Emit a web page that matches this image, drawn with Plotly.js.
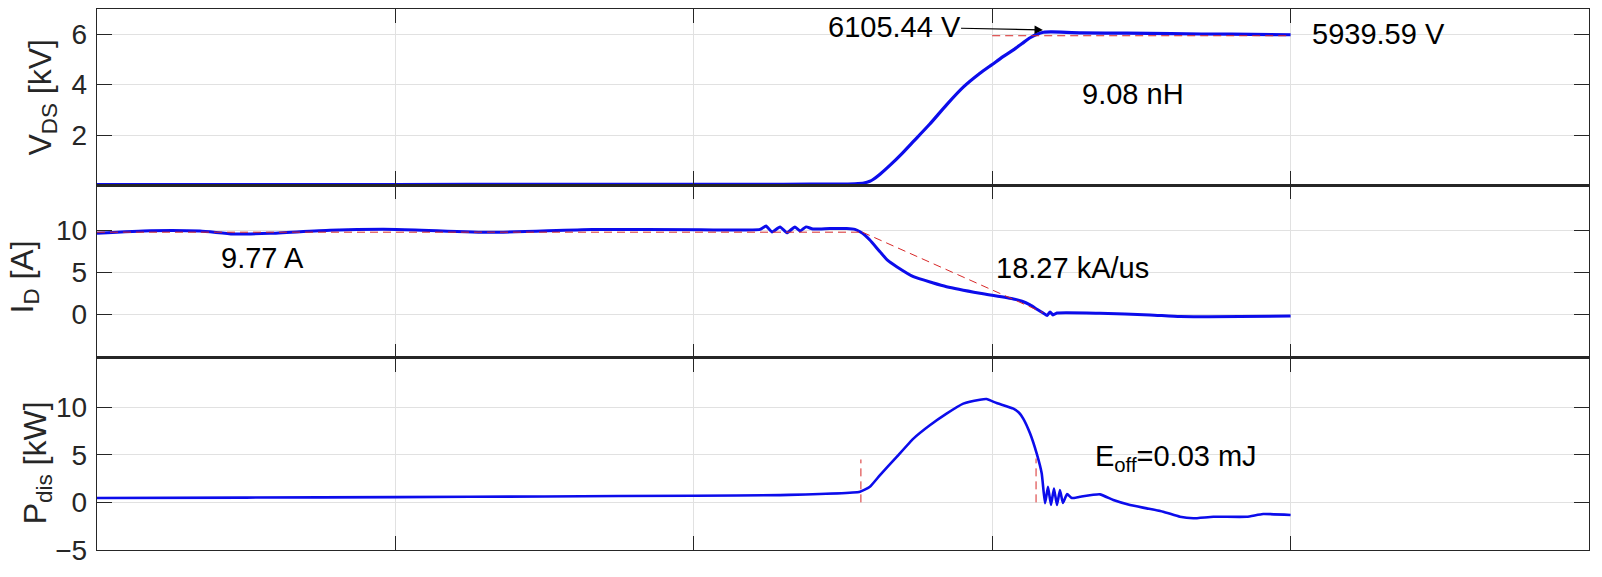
<!DOCTYPE html>
<html>
<head>
<meta charset="utf-8">
<script src="https://cdn.plot.ly/plotly-3.0.1.min.js"></script>
<style>html,body{margin:0;padding:0;background:#fff;}#chart{width:1602px;height:577px;}</style>
</head>
<body>
<div id="chart"></div>
<script>
// ---- data (time axis in divisions, no labels shown) ----
const vdsTime = [0, 0.5, 1, 1.5, 2, 2.3, 2.5, 2.54, 2.57, 2.59, 2.602, 2.624, 2.657, 2.70, 2.736, 2.791, 2.847, 2.903, 2.959, 3.0, 3.035, 3.071, 3.10, 3.127, 3.15, 3.172, 3.20, 3.30, 3.45, 3.60, 3.80, 4.0];
const vdsKV   = [0.04, 0.04, 0.04, 0.05, 0.05, 0.05, 0.06, 0.07, 0.10, 0.17, 0.25, 0.45, 0.80, 1.30, 1.75, 2.44, 3.20, 3.90, 4.45, 4.80, 5.10, 5.38, 5.63, 5.86, 6.00, 6.08, 6.09, 6.05, 6.04, 6.02, 6.00, 5.98];

const idTime = [0, 0.178, 0.345, 0.456, 0.58, 0.781, 1.002, 1.317, 1.659, 2.021, 2.222, 2.242, 2.262, 2.289, 2.312, 2.339, 2.356, 2.376, 2.399, 2.456, 2.512, 2.540, 2.557, 2.574, 2.590, 2.624, 2.650, 2.680, 2.736, 2.80, 2.847, 2.959, 3.071, 3.10, 3.127, 3.150, 3.172, 3.184, 3.194, 3.204, 3.217, 3.361, 3.529, 3.63, 3.83, 4.0];
const idAmp  = [9.63, 9.94, 9.90, 9.55, 9.63, 10.0, 10.1, 9.75, 10.1, 10.05, 10.1, 10.5, 9.8, 10.4, 9.7, 10.4, 9.9, 10.4, 10.15, 10.2, 10.2, 10.1, 9.82, 9.4, 8.83, 7.44, 6.4, 5.66, 4.47, 3.75, 3.28, 2.50, 1.82, 1.55, 1.11, 0.6, 0.12, -0.14, 0.27, -0.08, 0.15, 0.12, -0.08, -0.28, -0.28, -0.20];

const pTime = [0, 0.5, 1.0, 1.5, 2.0, 2.289, 2.557, 2.590, 2.624, 2.680, 2.736, 2.791, 2.847, 2.903, 2.959, 2.981, 3.015, 3.071, 3.090, 3.104, 3.127, 3.149, 3.166, 3.177, 3.187, 3.197, 3.207, 3.217, 3.227, 3.237, 3.251, 3.267, 3.294, 3.361, 3.406, 3.462, 3.518, 3.573, 3.629, 3.674, 3.741, 3.853, 3.908, 4.0];
const pKW   = [0.45, 0.5, 0.55, 0.62, 0.7, 0.76, 1.11, 1.63, 2.86, 4.77, 6.69, 8.09, 9.31, 10.36, 10.77, 10.84, 10.42, 9.83, 9.4, 8.79, 7.22, 5.13, 3.03, -0.10, 1.63, -0.28, 1.46, -0.28, 1.29, -0.07, 0.87, 0.45, 0.59, 0.84, 0.24, -0.28, -0.63, -0.98, -1.51, -1.67, -1.51, -1.51, -1.22, -1.33];

// red dashed guide lines
const vRefX = [3.0, 4.0];      const vRefY = [5.94, 5.94];
const iRefX = [0, 2.565];      const iRefY = [9.77, 9.77];
const slopeX = [2.565, 3.17];  const slopeY = [9.77, 0.2];
const pMark1X = [2.56, 2.56];  const pMark1Y = [0, 4.5];
const pMark2X = [3.147, 3.147];const pMark2Y = [0, 4.6];

// annotation texts
const labelTexts = ['6105.44 V', '5939.59 V', '9.08 nH', '9.77 A', '18.27 kA/us', 'E<sub>off</sub>=0.03 mJ'];
const yTitles = ['V<sub>DS</sub> [kV]', 'I<sub>D</sub> [A]', 'P<sub>dis</sub> [kW]'];
const gridX = [1, 2, 3, 4];

const FONT = 'Liberation Sans, Arial, Helvetica, sans-serif';
const BLUE = 'rgb(12,12,235)';
const RED = 'rgb(215,40,40)';
const AX = '#262626';

const traces = [
  {x: vdsTime, y: vdsKV, xaxis: 'x', yaxis: 'y', mode: 'lines', line: {color: BLUE, width: 3.2, shape: 'spline', smoothing: 0.7}},
  {x: idTime, y: idAmp, xaxis: 'x2', yaxis: 'y2', mode: 'lines', line: {color: BLUE, width: 3, shape: 'spline', smoothing: 0.5}},
  {x: pTime, y: pKW, xaxis: 'x3', yaxis: 'y3', mode: 'lines', line: {color: BLUE, width: 2.6, shape: 'spline', smoothing: 0.4}},
  {x: vRefX, y: vRefY, xaxis: 'x', yaxis: 'y', mode: 'lines', line: {color: RED, width: 1, dash: '8px,5px'}},
  {x: iRefX, y: iRefY, xaxis: 'x2', yaxis: 'y2', mode: 'lines', line: {color: RED, width: 1, dash: '8px,5px'}},
  {x: slopeX, y: slopeY, xaxis: 'x2', yaxis: 'y2', mode: 'lines', line: {color: RED, width: 1, dash: '8px,5px'}},
  {x: pMark1X, y: pMark1Y, xaxis: 'x3', yaxis: 'y3', mode: 'lines', line: {color: RED, width: 1, dash: '8px,5px'}},
  {x: pMark2X, y: pMark2Y, xaxis: 'x3', yaxis: 'y3', mode: 'lines', line: {color: RED, width: 1, dash: '8px,5px'}}
];

function xax(anchor) {
  return {
    anchor: anchor, range: [0, 5], tickvals: gridX, showticklabels: false,
    ticks: 'inside', ticklen: 14, tickcolor: AX, tickwidth: 1,
    showline: true, linecolor: AX, linewidth: 1.2, mirror: 'ticks',
    showgrid: true, gridcolor: '#e1e1e1', gridwidth: 1, zeroline: false
  };
}
function yax(anchor, domain, range, tickvals) {
  return {
    anchor: anchor, domain: domain, range: range, tickvals: tickvals,
    ticks: 'inside', ticklen: 15, tickcolor: AX, tickwidth: 1,
    showline: true, linecolor: AX, linewidth: 1.2, mirror: 'ticks',
    showgrid: true, gridcolor: '#e1e1e1', gridwidth: 1, zeroline: false,
    tickfont: {family: FONT, size: 28, color: AX}, ticklabelstandoff: 3
  };
}

const TOPD = [0.6741, 1], MIDD = [0.3558, 0.6741], BOTD = [0, 0.3558];
const annFont = {family: FONT, size: 29, color: '#000'};
const titleFont = {family: FONT, size: 32, color: AX};

const layout = {
  width: 1602, height: 577,
  margin: {l: 97, r: 13, t: 9, b: 27},
  paper_bgcolor: '#fff', plot_bgcolor: '#fff',
  showlegend: false,
  xaxis: xax('y'),
  xaxis2: Object.assign(xax('y2'), {matches: 'x'}),
  xaxis3: Object.assign(xax('y3'), {matches: 'x'}),
  yaxis: yax('x', TOPD, [0.01, 7], [2, 4, 6]),
  yaxis2: yax('x2', MIDD, [-5.15, 15.35], [0, 5, 10]),
  yaxis3: yax('x3', BOTD, [-5, 15.2], [-5, 0, 5, 10]),
  annotations: [
    {xref: 'x', yref: 'y', x: 3.17, y: 6.17, axref: 'x', ayref: 'y', ax: 2.671, ay: 6.29,
     text: labelTexts[0], showarrow: true, arrowhead: 2, arrowsize: 1.4, arrowwidth: 1.2, arrowcolor: '#000',
     font: annFont, borderpad: 0, standoff: 0},
    {xref: 'x', yref: 'y', x: 4.296, y: 6.01, text: labelTexts[1], showarrow: false, font: annFont},
    {xref: 'x', yref: 'y', x: 3.472, y: 3.65, text: labelTexts[2], showarrow: false, font: annFont},
    {xref: 'x2', yref: 'y2', x: 0.553, y: 6.69, text: labelTexts[3], showarrow: false, font: annFont},
    {xref: 'x2', yref: 'y2', x: 3.269, y: 5.5, text: labelTexts[4], showarrow: false, font: annFont},
    {xref: 'x3', yref: 'y3', x: 3.616, y: 4.63, text: labelTexts[5], showarrow: false, font: annFont},
    {xref: 'paper', yref: 'paper', x: (42 - 97) / 1492, y: (550 - 97.5) / 541, text: yTitles[0], textangle: -90,
     showarrow: false, xanchor: 'center', yanchor: 'middle', font: titleFont},
    {xref: 'paper', yref: 'paper', x: (24 - 97) / 1492, y: (550 - 277.5) / 541, text: yTitles[1], textangle: -90,
     showarrow: false, xanchor: 'center', yanchor: 'middle', font: titleFont},
    {xref: 'paper', yref: 'paper', x: (37 - 97) / 1492, y: (550 - 463.3) / 541, text: yTitles[2], textangle: -90,
     showarrow: false, xanchor: 'center', yanchor: 'middle', font: titleFont}
  ]
};

Plotly.newPlot('chart', traces, layout, {displayModeBar: false, staticPlot: true});
</script>
</body>
</html>
